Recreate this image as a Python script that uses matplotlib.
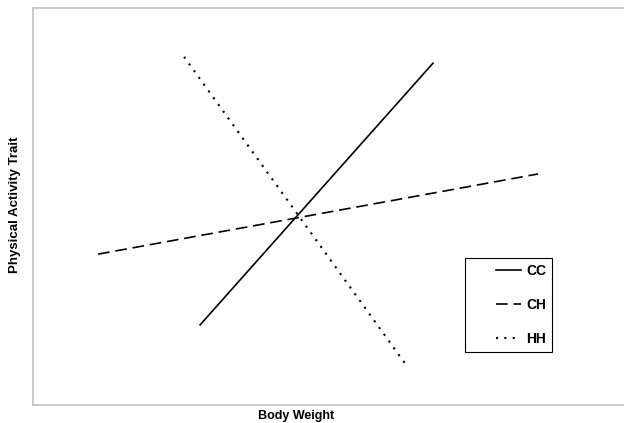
import matplotlib
matplotlib.use('Agg')
import matplotlib.pyplot as plt
from matplotlib.patches import Rectangle

plt.rcParams['font.family'] = ['Liberation Sans', 'DejaVu Sans']

# endpoints of the three genotype lines (arbitrary units, 0-100)
cc_x = [28.0, 67.0]
cc_y = [20.2, 86.1]
ch_x = [10.9, 84.6]
ch_y = [38.0, 58.2]
hh_x = [25.3, 62.5]
hh_y = [87.7, 10.1]

fig = plt.figure(figsize=(6.24, 4.23), dpi=100)
ax = fig.add_axes([33/624, 18/423, 597/624, 397/423])

ax.plot(cc_x, cc_y, color='black', lw=1.2, label='CC')
ax.plot(ch_x, ch_y, color='black', lw=1.2, linestyle=(0, (7, 3.5)), label='CH')
ax.plot(hh_x, hh_y, color='black', lw=1.5, linestyle=(0, (1, 3)), label='HH')

ax.set_xlim(0, 100)
ax.set_ylim(0, 100)
ax.set_xticks([])
ax.set_yticks([])
for s in ax.spines.values():
    s.set_color('#bdbdbd')
    s.set_linewidth(1.1)

# legend box drawn separately, entries sit towards its right side
ax.add_patch(Rectangle((0.724, 0.134), 0.146, 0.236, transform=ax.transAxes,
                       facecolor='white', edgecolor='black', lw=0.8, zorder=4))
leg = ax.legend(loc='upper left', bbox_to_anchor=(0.776, 0.356),
                borderaxespad=0, borderpad=0, frameon=False,
                handlelength=1.8, handletextpad=0.35, labelspacing=1.45,
                prop={'weight': 'bold', 'size': 10})
leg.set_zorder(5)

fig.text(296/624, 1 - 416/423, 'Body Weight', ha='center', va='center',
         fontsize=9, fontweight='bold')
fig.text(15/624, 1 - 205/423, 'Physical Activity Trait', ha='center', va='center',
         rotation=90, fontsize=9.5, fontweight='bold')

fig.savefig('out.png', dpi=100)
